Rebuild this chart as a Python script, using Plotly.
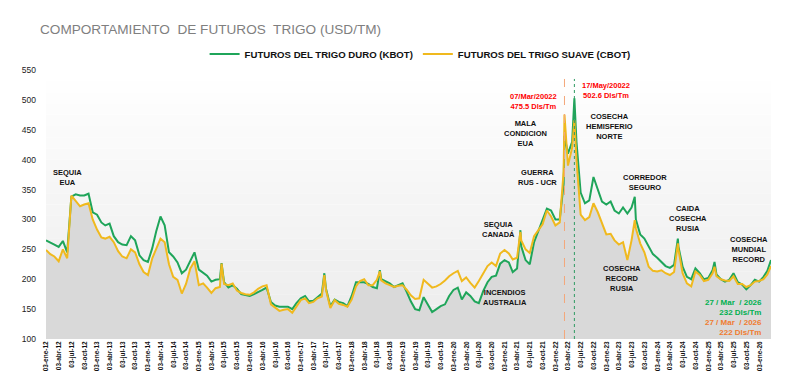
import plotly.graph_objects as go
import pandas as pd

# ---------------- data ----------------
months = pd.date_range("2012-01-01", "2026-03-01", freq="MS")

kbot_2012 = [265, 262, 258, 254, 264, 245, 338, 342, 340, 340, 343, 312]
kbot_2013 = [308, 295, 290, 293, 272, 262, 258, 257, 272, 265, 240, 232]
kbot_2014 = [229, 252, 280, 305, 290, 245, 238, 228, 210, 216, 232, 245]
kbot_2015 = [216, 210, 206, 196, 199, 200, 195, 186, 190, 184, 175, 173]
kbot_2016 = [172, 175, 178, 182, 186, 162, 156, 154, 154, 154, 150, 160]
kbot_2017 = [168, 172, 163, 164, 170, 176, 184, 155, 166, 162, 160, 155]
kbot_2018 = [172, 195, 195, 195, 192, 187, 185, 200, 196, 193, 187, 190]
kbot_2019 = [193, 178, 163, 150, 148, 170, 158, 145, 150, 155, 158, 172]
kbot_2020 = [182, 186, 166, 178, 172, 163, 160, 180, 195, 204, 206, 226]
kbot_2021 = [232, 228, 212, 218, 255, 232, 225, 262, 282, 298, 318, 315]
kbot_2022 = [300, 300, 360, 410, 430, 430, 345, 327, 332, 371, 350, 330]
kbot_2023 = [325, 330, 315, 310, 320, 310, 320, 300, 275, 268, 254, 242]
kbot_2024 = [236, 229, 222, 219, 224, 255, 221, 204, 200, 218, 210, 200]
kbot_2025 = [202, 215, 208, 200, 196, 199, 210, 195, 191, 183, 190, 199]
kbot_2026 = [196, 204, 214]

cbot_2012 = [249, 242, 238, 230, 250, 235, 340, 330, 322, 325, 327, 300]
cbot_2013 = [283, 270, 268, 271, 262, 247, 238, 235, 250, 245, 225, 212]
cbot_2014 = [207, 235, 250, 268, 262, 225, 204, 199, 176, 192, 218, 230]
cbot_2015 = [190, 193, 186, 177, 185, 187, 192, 190, 193, 181, 177, 175]
cbot_2016 = [174, 178, 184, 188, 190, 158, 152, 147, 149, 150, 144, 155]
cbot_2017 = [165, 168, 160, 162, 168, 171, 182, 152, 165, 159, 157, 154]
cbot_2018 = [166, 188, 197, 200, 190, 190, 199, 198, 193, 190, 187, 189]
cbot_2019 = [190, 182, 173, 167, 168, 199, 193, 186, 188, 192, 198, 205]
cbot_2020 = [210, 214, 197, 203, 194, 186, 197, 209, 222, 228, 222, 243]
cbot_2021 = [249, 243, 233, 236, 265, 250, 244, 272, 282, 292, 315, 305]
cbot_2022 = [290, 295, 380, 390, 420, 400, 308, 299, 304, 327, 312, 292]
cbot_2023 = [275, 276, 265, 258, 262, 232, 265, 285, 260, 245, 221, 214]
cbot_2024 = [213, 215, 210, 207, 212, 250, 210, 193, 188, 213, 207, 197]
cbot_2025 = [199, 210, 205, 200, 198, 197, 205, 192, 192, 187, 190, 196]
cbot_2026 = [197, 200, 208]

# peaks / last quote between monthly samples
extra_dates = ["2015-06-13", "2017-06-19", "2018-07-22", "2021-04-25", "2022-03-07",
               "2022-05-17", "2023-07-24", "2024-05-28", "2025-02-15", "2026-03-27"]
kbot_extra = [227, 210, 215, 282, 440, 502.6, 338, 268, 229, 232]
cbot_extra = [226, 207, 213, 279, 475.5, 466, 299, 260, 221, 222]

kbot_monthly = (kbot_2012 + kbot_2013 + kbot_2014 + kbot_2015 + kbot_2016 + kbot_2017 +
                kbot_2018 + kbot_2019 + kbot_2020 + kbot_2021 + kbot_2022 + kbot_2023 +
                kbot_2024 + kbot_2025 + kbot_2026)
cbot_monthly = (cbot_2012 + cbot_2013 + cbot_2014 + cbot_2015 + cbot_2016 + cbot_2017 +
                cbot_2018 + cbot_2019 + cbot_2020 + cbot_2021 + cbot_2022 + cbot_2023 +
                cbot_2024 + cbot_2025 + cbot_2026)

tick_years = list(range(2012, 2027))
tick_months = {1: "ene", 4: "abr", 7: "jul", 10: "oct"}

# ---------------- build table ----------------
df = pd.concat([
    pd.DataFrame({"date": months, "kbot": kbot_monthly, "cbot": cbot_monthly}),
    pd.DataFrame({"date": pd.to_datetime(extra_dates), "kbot": kbot_extra, "cbot": cbot_extra}),
]).sort_values("date").reset_index(drop=True)
df["low"] = df[["kbot", "cbot"]].min(axis=1)

tickvals, ticktext = [], []
for y in tick_years:
    for m, ab in tick_months.items():
        if y == 2026 and m > 1:
            continue
        tickvals.append(pd.Timestamp(y, m, 3))
        ticktext.append(f"03-{ab}-{y % 100:02d}")

GREEN = "#1fa55a"
YELLOW = "#f0b91e"

fig = go.Figure()
fig.add_trace(go.Scatter(x=df["date"], y=df["low"], mode="lines", line=dict(width=0),
                         fill="tozeroy", fillcolor="#d9d9d9", showlegend=False, hoverinfo="skip"))
fig.add_trace(go.Scatter(x=df["date"], y=df["kbot"], mode="lines", name="FUTUROS DEL TRIGO DURO (KBOT)",
                         line=dict(color=GREEN, width=2)))
fig.add_trace(go.Scatter(x=df["date"], y=df["cbot"], mode="lines", name="FUTUROS DEL TRIGO SUAVE (CBOT)",
                         line=dict(color=YELLOW, width=2)))

# gradient background bands
shapes = []
nb = 24
for i in range(nb):
    y0 = 100 + i * 450 / nb
    y1 = 100 + (i + 1) * 450 / nb
    frac = i / (nb - 1)
    g = int(236 + (255 - 236) * frac)
    shapes.append(dict(type="rect", xref="x domain", yref="y", x0=0, x1=1, y0=y0, y1=y1,
                       fillcolor=f"rgb({g},{g},{g})", line=dict(width=0), layer="below"))
shapes.append(dict(type="line", xref="x", yref="y", x0="2022-03-07", x1="2022-03-07", y0=100, y1=535,
                   line=dict(color="#f4a77a", width=1, dash="dash")))
shapes.append(dict(type="line", xref="x", yref="y", x0="2022-05-17", x1="2022-05-17", y0=100, y1=535,
                   line=dict(color="#2f9a62", width=1, dash="dot")))

BL = dict(family="Liberation Sans, Arial", size=7.5, color="#111111")
RED = dict(family="Liberation Sans, Arial", size=7.5, color="#ff0000")
GR = dict(family="Liberation Sans, Arial", size=8, color="#00b050")
OR = dict(family="Liberation Sans, Arial", size=8, color="#f07c30")

def ann(x, y, text, font, xanchor="center", align="center"):
    return dict(x=x, y=y, xref="x", yref="y", text=text, showarrow=False, font=font,
                xanchor=xanchor, yanchor="middle", align=align)

annotations = [
    ann("2012-06-01", 371, "<b>SEQUIA<br>EUA</b>", BL),
    ann("2021-05-28", 444, "<b>MALA<br>CONDICION<br>EUA</b>", BL),
    ann("2021-08-25", 371, "<b>GUERRA<br>RUS - UCR</b>", BL),
    ann("2021-07-27", 498, "<b>07/Mar/20022<br>475.5 Dls/Tm</b>", RED),
    ann("2023-01-01", 516, "<b>17/May/20022<br>502.6 Dls/Tm</b>", RED),
    ann("2023-01-23", 456, "<b>COSECHA<br>HEMISFERIO<br>NORTE</b>", BL),
    ann("2023-10-08", 361, "<b>CORREDOR<br>SEGURO</b>", BL),
    ann("2024-08-11", 302, "<b>CAIDA<br>COSECHA<br>RUSIA</b>", BL),
    ann("2020-11-17", 284, "<b>SEQUIA<br>CANADÁ</b>", BL),
    ann("2021-01-07", 170, "<b>INCENDIOS<br>AUSTRALIA</b>", BL),
    ann("2023-04-27", 202, "<b>COSECHA<br>RECORD<br>RUSIA</b>", BL),
    ann("2025-10-23", 249, "<b>COSECHA<br>MUNDIAL<br>RECORD</b>", BL),
    ann("2026-02-05", 152, "<b>27 / Mar  / 2026<br>232 Dls/Tm</b>", GR, xanchor="right", align="right"),
    ann("2026-02-05", 120, "<b>27 / Mar  / 2026<br>222 Dls/Tm</b>", OR, xanchor="right", align="right"),
    dict(x=(38 - 46) / 725, y=1 + (70 - 30) / 269, xref="paper", yref="paper",
         text="COMPORTAMIENTO  DE FUTUROS  TRIGO (USD/TM)", showarrow=False,
         xanchor="left", yanchor="middle",
         font=dict(family="Liberation Sans, Arial", size=13.6, color="#7f7f7f")),
]

# the page adds an 8px body margin, so the figure margins are offset by it
fig.update_layout(
    width=800, height=380,
    margin=dict(l=38, r=37, t=62, b=49, autoexpand=False),
    paper_bgcolor="white", plot_bgcolor="white",
    legend=dict(orientation="h", x=0.516, xanchor="center", y=1 + 16 / 269, yanchor="middle",
                font=dict(family="Liberation Sans, Arial", size=9.6, color="#111111", weight="bold"),
                itemwidth=30, bgcolor="rgba(0,0,0,0)"),
    shapes=shapes, annotations=annotations,
    xaxis=dict(type="date", range=["2012-01-01", "2026-03-27"], tickvals=tickvals, ticktext=ticktext,
               tickangle=-90, showgrid=False, zeroline=False, showline=False, ticks="",
               automargin=False,
               tickfont=dict(family="Liberation Sans, Arial", size=6.5, color="#111111", weight="bold")),
    yaxis=dict(range=[100, 550], tickvals=list(range(100, 551, 50)), showgrid=False, zeroline=False,
               showline=False, ticks="", ticklabelstandoff=9, automargin=False,
               tickfont=dict(family="Liberation Sans, Arial", size=8.5, color="#222222")),
    showlegend=True,
)

fig.write_html("out.html")
